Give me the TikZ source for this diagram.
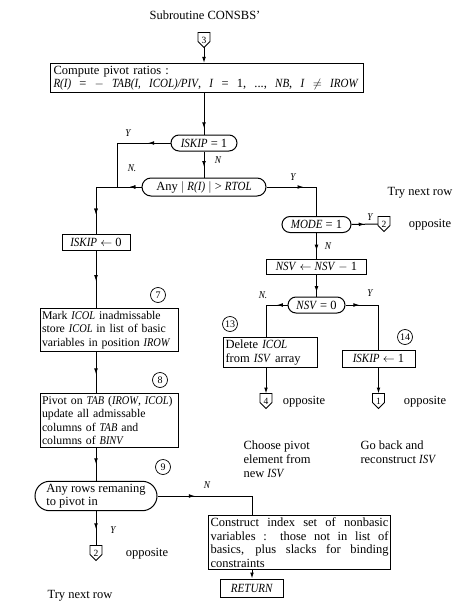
\documentclass[tikz,border=0pt]{standalone}
\usepackage{fontspec}
\setmainfont{Liberation Serif}[ItalicFeatures={FakeStretch=0.88}]
\usetikzlibrary{shapes.misc,arrows.meta,decorations.markings,calc}
\newcommand\offpg[1]{\draw[line width=0.75pt] (#1.north west) -- (#1.north east) -- ($(#1.south east)!0.4!(#1.north east)$) -- (#1.south) -- ($(#1.south west)!0.4!(#1.north west)$) -- cycle;}
\begin{document}
\begin{tikzpicture}[x=1pt,y=-1pt,
  font=\fontsize{12.5}{13.5}\selectfont,
  line width=1pt,
  box/.style={draw, rectangle, inner xsep=2pt, inner ysep=2.5pt, align=left},
  dec/.style={draw, rounded rectangle, inner sep=2pt, minimum height=16pt},
  lab/.style={font=\fontsize{10.5}{10.5}\selectfont\itshape, inner sep=0pt},
  circ/.style={draw, circle, inner sep=0.5pt, minimum size=15pt, line width=0.7pt, font=\fontsize{10}{10}\selectfont},
  conn/.style={minimum width=11pt, minimum height=14pt, inner sep=0pt, font=\fontsize{9.5}{10}\selectfont},
  plain/.style={inner sep=0pt, align=left},
  midarrow/.style={postaction={decorate}, decoration={markings, mark=at position #1 with {\arrow{Latex[length=6pt,width=3.8pt]}}}},
  tip/.style={-{Latex[length=6pt,width=3.8pt]}},
  ]
\useasboundingbox (0,0) rectangle (468,607);

% title
\node[plain] (title) at (205,15) {Subroutine CONSBS'};

% off-page connectors
\node[conn] (c3) at (204,40) {3}; \offpg{c3}
\node[conn] (c2) at (384,224) {2}; \offpg{c2}
\node[conn] (c4) at (266,401) {4}; \offpg{c4}
\node[conn] (c1) at (378.5,401) {1}; \offpg{c1}
\node[conn] (c2b) at (96,553) {2}; \offpg{c2b}

% boxes and decisions
\node[box, anchor=north west, text width=307pt, inner xsep=3pt] (comp) at (50,63)
  {Compute pivot ratios :\\
   \hbox to 305pt{\textit{R(I)}\hfill=\hfill$-$\hfill\textit{TAB(I,}\hfill\textit{ICOL)/PIV},\hfill\textit{I}\hfill=\hfill1,\hfill...,\hfill\textit{NB},\hfill\textit{I}\hfill$\neq$\hfill\textit{IROW}}};
\node[dec, minimum width=70pt] (isk) at (204,143) {\textit{ISKIP} = 1};
\node[dec, minimum width=128pt, minimum height=18pt] (any) at (204,187) {Any $\mid$ \textit{R(I)} $\mid$ > \textit{RTOL}};
\node[box, minimum width=68pt, minimum height=16pt, inner sep=1pt] (isk0) at (96,242.5) {\textit{ISKIP} $\leftarrow$ 0};
\node[dec, minimum width=73pt] (mode) at (316.5,224.5) {\textit{MODE} = 1};
\node[box, minimum width=100pt, minimum height=15pt, inner sep=1pt] (nsv) at (316.5,267) {\textit{NSV} $\leftarrow$ \textit{NSV} $-$ 1};
\node[dec, minimum width=61pt] (nsv0) at (316.5,305) {\textit{NSV} = 0};
\node[box, anchor=north west, text width=90pt] (del) at (223,337)
  {Delete \textit{ICOL}\\ from \textit{ISV} array};
\node[box, minimum width=73pt, minimum height=17pt, inner sep=1pt] (isk1) at (378.5,358.5) {\textit{ISKIP} $\leftarrow$ 1};
\node[box, anchor=north west, text width=135pt, inner xsep=1.5pt, font=\fontsize{11.8}{13.5}\selectfont] (mark) at (40,308)
  {\mbox{Mark \textit{ICOL} inadmissable}\\ \mbox{store \textit{ICOL} in list of basic}\\ \mbox{variables in position \textit{IROW}}};
\node[box, anchor=north west, text width=135pt, inner xsep=1.5pt, font=\fontsize{11.8}{13.5}\selectfont] (piv) at (40,393)
  {\mbox{Pivot on \textit{TAB} (\textit{IROW}, \textit{ICOL})}\\ update all admissable\\ columns of \textit{TAB} and\\ columns of \textit{BINV}};
\node[dec, minimum width=127pt, align=left, inner sep=2.5pt] (rows) at (96,496)
  {Any rows remaning\\ to pivot in};
\node[box, anchor=north west, text width=178pt, align=justify] (cons) at (208,515)
  {Construct index set of nonbasic\linebreak variables : those not in list of\linebreak basics, plus slacks for binding\linebreak constraints};
\node[box, minimum width=63pt, minimum height=18pt, inner sep=1pt] (ret) at (252,588) {\textit{RETURN}};

% circled step numbers
\node[circ] (n7) at (158,295) {7};
\node[circ] (n8) at (160,380) {8};
\node[circ] (n9) at (163,467) {9};
\node[circ] (n13) at (230,324) {13};
\node[circ] (n14) at (405,337) {14};

% junction on the line left of the RTOL test
\coordinate (j1) at (117,187);

% flow lines
\draw[tip] (c3.south) -- (comp.north -| c3.south);
\draw[midarrow=0.85] (comp.south -| isk.north) -- (isk.north);
\draw[midarrow=0.23] (isk.west) -| (j1);
\draw[midarrow=0.6] (isk.south) -- (isk.south |- any.north);
\draw[midarrow=0.13, midarrow=0.79] (any.west) -| (isk0.north);
\draw[midarrow=0.47] (any.east) -| (mode.north);
\draw[midarrow=0.5] (mode.east) -- (c2.west);
\draw[midarrow=0.68] (mode.south) -- (nsv.north);
\draw[midarrow=0.8] (nsv.south) -- (nsv0.north);
\draw[midarrow=0.2] (nsv0.west) -| (del.north -| c4);
\draw[midarrow=0.18] (nsv0.east) -| (isk1.north);
\draw[tip] (del.south -| c4) -- (c4.north);
\draw[tip] (isk1.south) -- (c1.north);
\draw[midarrow=0.53] (isk0.south) -- (isk0.south |- mark.north);
\draw[midarrow=0.55] (isk0.south |- mark.south) -- (isk0.south |- piv.north);
\draw[midarrow=0.5] (isk0.south |- piv.south) -- (rows.north);
\draw[midarrow=0.33] (rows.east) -| (ret.north |- cons.north);
\draw[midarrow=0.53] (rows.south) -- (c2b.north);
\draw[tip] (ret.north |- cons.south) -- (ret.north);

% branch labels
\node[lab] (ly1) at (128,133) {Y};
\node[lab] (ln1) at (218,160) {N};
\node[lab] (ln2) at (132,168) {N.};
\node[lab] (ly2) at (293,177) {Y};
\node[lab] (ly3) at (370,217) {Y};
\node[lab] (ln3) at (328,246) {N};
\node[lab] (ln4) at (263,295) {N.};
\node[lab] (ly4) at (370,293) {Y};
\node[lab] (ly5) at (113,530) {Y};
\node[lab] (ln5) at (207,485) {N};

% side texts
\node[plain] (t1) at (420,193) {Try next row};
\node[plain] (o1) at (430,225) {opposite};
\node[plain] (o2) at (304,402) {opposite};
\node[plain] (o3) at (425,402) {opposite};
\node[plain] (o4) at (147,554) {opposite};
\node[plain] (t2) at (80,596) {Try next row};
\node[plain, anchor=north west, font=\fontsize{12.5}{14}\selectfont] (t3) at (243,440) {Choose pivot\\ element from\\ new \textit{ISV}};
\node[plain, anchor=north west, font=\fontsize{12.5}{14}\selectfont] (t4) at (360,440) {Go back and\\ reconstruct \textit{ISV}};
\end{tikzpicture}
\end{document}
